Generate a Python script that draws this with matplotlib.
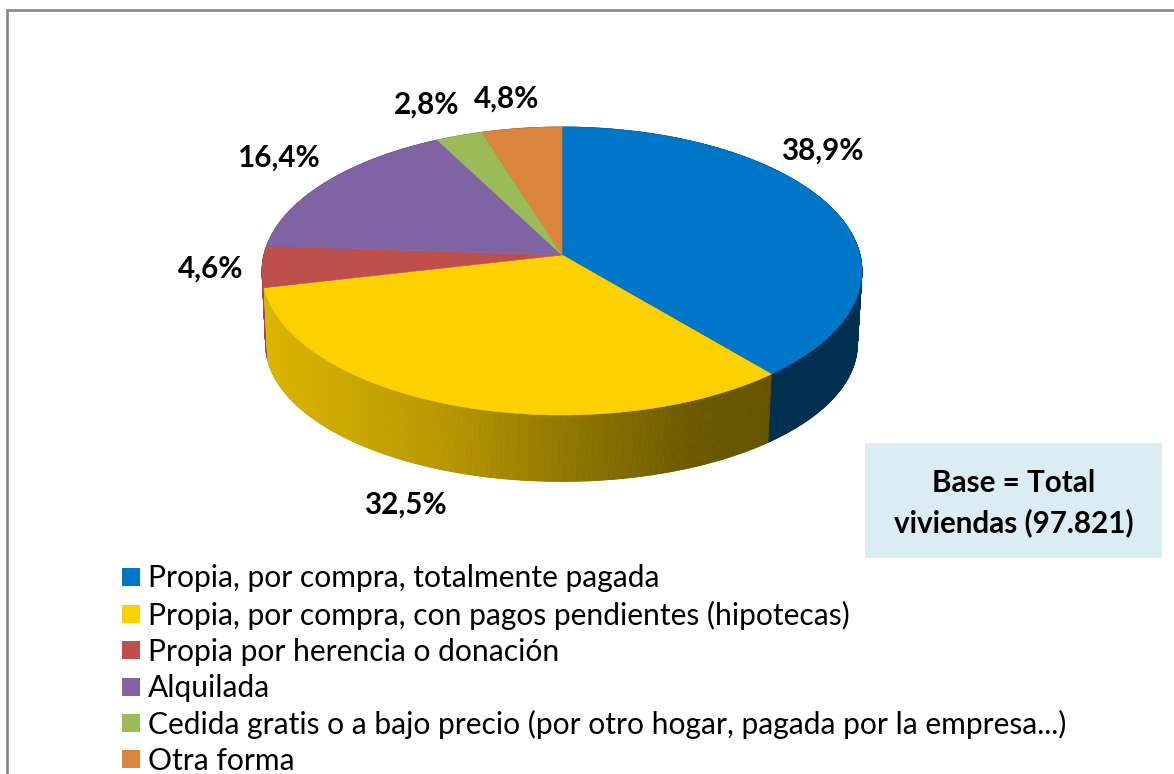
import matplotlib
matplotlib.use('Agg')
import matplotlib.pyplot as plt
from matplotlib.collections import PolyCollection
from matplotlib.colors import to_rgb
from matplotlib.patches import Polygon, Rectangle
import numpy as np

plt.rcParams['font.family'] = ['Lato', 'DejaVu Sans']

# datos
categorias = [
    'Propia, por compra, totalmente pagada',
    'Propia, por compra, con pagos pendientes (hipotecas)',
    'Propia por herencia o donación',
    'Alquilada',
    'Cedida gratis o a bajo precio (por otro hogar, pagada por la empresa...)',
    'Otra forma',
]
valores = [38.9, 32.5, 4.6, 16.4, 2.8, 4.8]
colores = ['#0076C8', '#FDD000', '#BE4F4D', '#8063A2', '#9BBB59', '#DB843D']
pos_etiquetas = [(822, 150.5), (405, 504.5), (211, 268.5), (278, 157.5), (427, 104.5), (507, 98.5)]

SIZE_LABEL = 21.3
SIZE_LEG = 21.6


def tapa(theta, cx, cy, a, b, k=0.111):
    # circulo -> elipse con perspectiva; theta desde arriba, sentido horario
    u, v = np.sin(theta), np.cos(theta)
    return cx + a * u / (1 + k * v), cy - b * v / (1 + k * v)


def sombra(x):
    return np.interp(x, [265, 350, 450, 560, 700, 770, 860],
                     [0.87, 0.80, 0.72, 0.58, 0.42, 0.40, 0.40])


fig = plt.figure(figsize=(11.74, 7.74), dpi=100)
ax = fig.add_axes([0, 0, 1, 1])
ax.set_xlim(0, 1174)
ax.set_ylim(774, 0)
ax.axis('off')

# marco
ax.plot([7, 7, 1174], [774, 10, 10], color='#868686', lw=1.9, solid_joinstyle='miter')

bordes = np.cumsum([0] + valores) / sum(valores) * 2 * np.pi

# lateral del pastel, de atras hacia delante
quads, caras, orden = [], [], []
for i, color in enumerate(colores):
    n = max(int(valores[i] * 12), 4)
    ang = np.linspace(bordes[i], bordes[i + 1], n + 1)
    x1, y1 = tapa(ang, 562, 255, 298.1, 142.2)
    x2, y2 = tapa(ang, 561.5, 329, 294, 135.5)
    rgb = np.array(to_rgb(color))
    for j in range(n):
        quads.append([(x1[j], y1[j]), (x1[j + 1], y1[j + 1]), (x2[j + 1], y2[j + 1]), (x2[j], y2[j])])
        caras.append(tuple(rgb * sombra((x1[j] + x1[j + 1]) / 2)))
        orden.append(np.cos((ang[j] + ang[j + 1]) / 2))
idx = np.argsort(orden)[::-1]
ax.add_collection(PolyCollection([quads[i] for i in idx], facecolors=[caras[i] for i in idx],
                                 edgecolors=[caras[i] for i in idx], linewidths=0.6))

# cara superior
for i, color in enumerate(colores):
    ang = np.linspace(bordes[i], bordes[i + 1], 120)
    x, y = tapa(ang, 562, 255, 298.1, 142.2)
    pts = np.column_stack([np.r_[562, x], np.r_[255, y]])
    ax.add_patch(Polygon(pts, closed=True, facecolor=color, edgecolor=color, lw=0.4))

# etiquetas
for v, (x, y) in zip(valores, pos_etiquetas):
    ax.text(x, y, f'{v:.1f}%'.replace('.', ','), ha='center', va='center',
            fontsize=SIZE_LABEL, fontweight='bold', color='black')

# cuadro base
ax.add_patch(Rectangle((865, 443), 297, 115, facecolor='#DBEDF3', edgecolor='none'))
ax.text(1013.5, 483.5, 'Base = Total', ha='center', va='center', fontsize=SIZE_LABEL, fontweight='bold')
ax.text(1013.5, 522.5, 'viviendas (97.821)', ha='center', va='center', fontsize=SIZE_LABEL, fontweight='bold')

# leyenda
y_leg = [577, 613.5, 650, 686.5, 723, 759]
for nombre, color, y in zip(categorias, colores, y_leg):
    ax.add_patch(Rectangle((122, y - 9), 18, 18, facecolor=color, edgecolor='none'))
    ax.text(148, y + 1.5, nombre, ha='left', va='center', fontsize=SIZE_LEG, color='black')

fig.savefig('out.png', dpi=100)
